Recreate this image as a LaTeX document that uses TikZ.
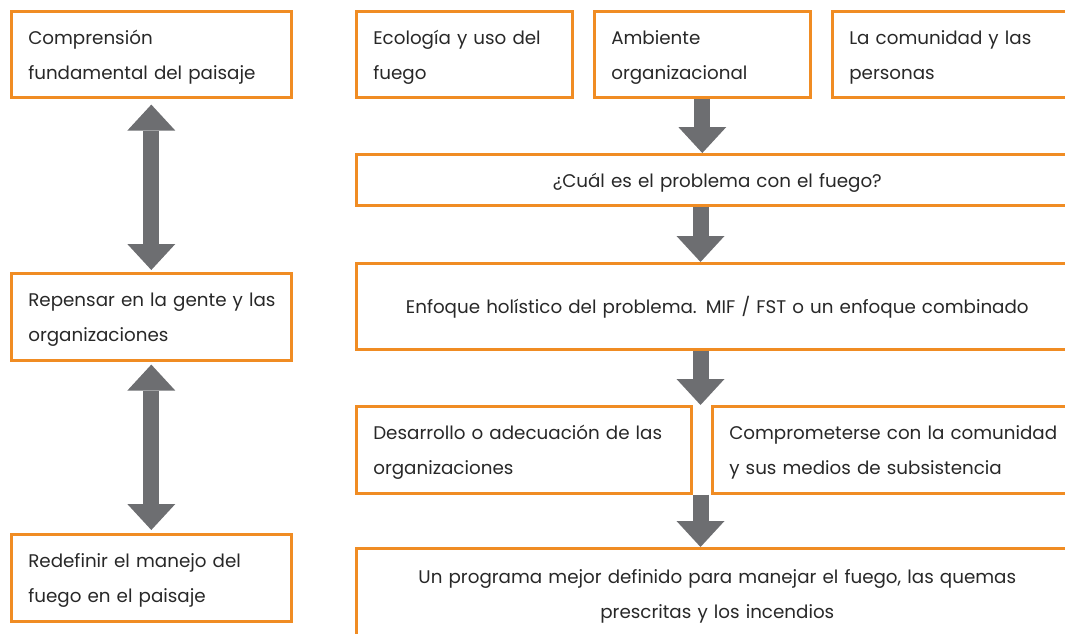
\documentclass[tikz,border=0pt]{standalone}
\usepackage{fontspec}
\setmainfont{Poppins}
\usetikzlibrary{arrows.meta}
\definecolor{boxorange}{RGB}{240,140,35}
\definecolor{arrowgray}{RGB}{109,110,113}
\definecolor{txt}{RGB}{40,40,40}
\tikzset{
  box/.style={draw=boxorange, line width=2.6pt, fill=white, inner ysep=0pt,
    inner xsep=17pt, text=txt, font=\fontsize{18.3}{35}\selectfont, anchor=north west,
    text height=19pt, text depth=39pt},
  oneline/.style={text depth=4pt},
  lbox/.style={box, align=left},
  cbox/.style={box, align=center},
  blockarrow/.style={draw=arrowgray, line width=16pt,
    -{Triangle[width=48pt,length=26pt,fill=arrowgray,line width=0pt]}},
  dblarrow/.style={draw=arrowgray, line width=16pt,
    {Triangle[width=48pt,length=26pt,fill=arrowgray,line width=0pt]}-{Triangle[width=48pt,length=26pt,fill=arrowgray,line width=0pt]}}
}
\begin{document}
\begin{tikzpicture}[x=1pt,y=-1pt]
\useasboundingbox (0,0) rectangle (1065,634);
\clip (0,0) rectangle (1065,634);
% left column
\node[lbox, text width=246pt, minimum height=86pt] (L1) at (10,10) {Comprensión\\fundamental del paisaje};
\node[lbox, text width=246pt, minimum height=87pt] (L2) at (10,272) {\mbox{Repensar en la gente y las}\\organizaciones};
\node[lbox, text width=246pt, minimum height=87pt] (L3) at (10,533) {Redefinir el manejo del\\fuego en el paisaje};
% top row
\node[lbox, text width=182pt, minimum height=86pt] (T1) at (355,10) {Ecología y uso del\\fuego};
\node[lbox, text width=182pt, minimum height=86pt] (T2) at (593,10) {Ambiente\\organizacional};
\node[lbox, text width=212pt, minimum height=86pt] (T3) at (831,10) {La comunidad y las\\personas};
% main column
\node[cbox, oneline, text width=688pt, minimum height=51pt] (Q) at (355,153) {¿Cuál es el problema con el fuego?};
\node[cbox, oneline, text width=688pt, minimum height=86pt] (E) at (355,262) {Enfoque holístico del problema. MIF / FST o un enfoque combinado};
\node[lbox, text width=301pt, minimum height=87pt] (D1) at (355,405) {Desarrollo o adecuación de las\\organizaciones};
\node[lbox, text width=332pt, minimum height=87pt] (D2) at (711,405) {Comprometerse con la comunidad\\y sus medios de subsistencia};
\node[cbox, text width=688pt, minimum height=90pt] (F) at (355,547) {Un programa mejor definido para manejar el fuego, las quemas\\prescritas y los incendios};
% arrows
\coordinate (ax) at (700.5,0);
\draw[blockarrow] (T2.south) -- (T2.south |- Q.north);
\draw[blockarrow] (ax |- Q.south) -- (ax |- E.north);
\draw[blockarrow] (ax |- E.south) -- (ax |- D1.north);
\draw[blockarrow] (ax |- D1.south) -- (ax |- F.north);
\draw[dblarrow, shorten <=6pt, shorten >=2pt] (L1.south) -- (L2.north);
\draw[dblarrow, shorten <=3pt, shorten >=3pt] (L2.south) -- (L3.north);
\end{tikzpicture}
\end{document}
